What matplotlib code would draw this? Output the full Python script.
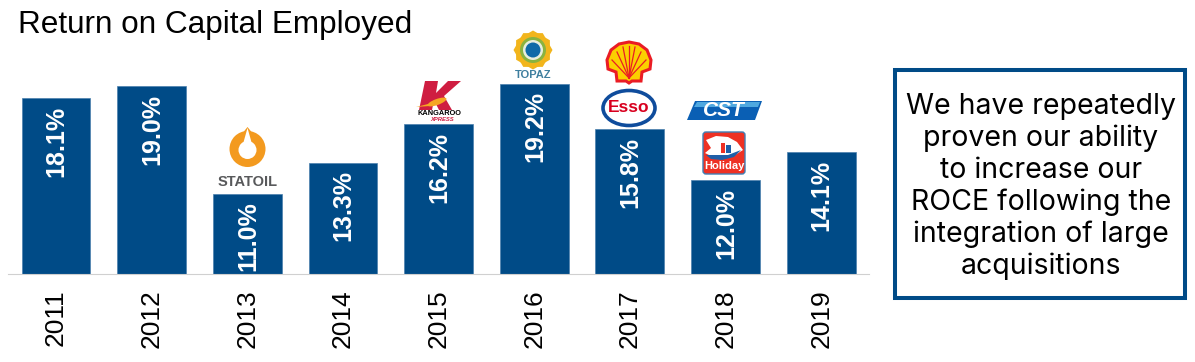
import matplotlib
matplotlib.use('Agg')
import matplotlib.pyplot as plt
from matplotlib.patches import Circle, Ellipse, Polygon, Rectangle, FancyBboxPatch, RegularPolygon

# Datos
anios = ['2011', '2012', '2013', '2014', '2015', '2016', '2017', '2018', '2019']
roce = [18.1, 19.0, 11.0, 13.3, 16.2, 19.2, 15.8, 12.0, 14.1]
etiquetas = ['18.1%', '19.0%', '11.0%', '13.3%', '16.2%', '19.2%', '15.8%', '12.0%', '14.1%']
titulo = 'Return on Capital Employed'
mensaje = 'We have repeatedly\nproven our ability\nto increase our\nROCE following the\nintegration of large\nacquisitions'

AZUL = '#004b87'
plt.rcParams['font.family'] = ['Liberation Sans', 'DejaVu Sans']

W, H = 1195, 362
fig = plt.figure(figsize=(W / 100, H / 100), dpi=100)

# Ejes de las barras: base en 5 %, 13.4 px por punto
ax = fig.add_axes([8.2 / W, (H - 274) / H, (869 - 8.2) / W, 244 / H])
ax.bar(range(len(anios)), roce, width=0.72, color=AZUL, edgecolor='#4a80ad', linewidth=0.5)
ax.set_xlim(-0.5, len(anios) - 0.5)
ax.set_ylim(5, 5 + 244 / 13.4)
ax.set_xticks(range(len(anios)))
ax.set_xticklabels(anios, rotation=90, fontsize=19, color='black')
ax.tick_params(axis='x', length=0, pad=11)
ax.set_yticks([])
for lado in ['top', 'left', 'right']:
    ax.spines[lado].set_visible(False)
ax.spines['bottom'].set_color('#d0d0d0')
ax.spines['bottom'].set_linewidth(0.8)
ax.patch.set_alpha(0)

for i, (v, t) in enumerate(zip(roce, etiquetas)):
    ax.annotate(t, xy=(i, v), xytext=(0.5, -5.5), textcoords='offset points', rotation=90,
                ha='center', va='top', color='white', fontsize=18, fontweight='bold')

# Capa en pixeles para titulo, logos y recuadro
capa = fig.add_axes([0, 0, 1, 1])
capa.set_xlim(0, W)
capa.set_ylim(H, 0)
capa.axis('off')
capa.patch.set_alpha(0)

capa.text(18, 25, titulo, fontsize=22.7, color='black', ha='left', va='center')

# Recuadro
capa.add_patch(Rectangle((895, 70), 290, 228, fill=False, edgecolor=AZUL, linewidth=2.9))
capa.text(1041, 186.5, mensaje, ha='center', va='center', fontsize=20.5, color='black',
          family='Inter', linespacing=1.21)

# Logo Statoil
capa.add_patch(Polygon([(247.5, 127), (237, 140), (258, 140)], color='#f39a1f', lw=0))
capa.add_patch(Circle((247.5, 149), 18, color='#f39a1f', lw=0))
capa.add_patch(Circle((247.5, 150), 9, color='white', lw=0))
capa.add_patch(Polygon([(247.5, 128), (243, 144), (252, 144)], color='white', lw=0))
capa.text(247.5, 182, 'STATOIL', ha='center', va='center', fontsize=10.5, fontweight='bold', color='#58595b')

# Logo Kangaroo
capa.add_patch(Polygon([(425, 81), (438, 81), (436, 93), (448, 81), (461, 81), (444, 96),
                        (452, 110), (439, 110), (434, 100), (432, 110), (419, 110)],
                       color='#cf1d41', lw=0))
capa.add_patch(Ellipse((437, 102), 20, 6, angle=-20, color='#f5a623', lw=0))
capa.add_patch(Polygon([(416, 107), (428, 104), (430, 106)], color='#f5a623', lw=0))
capa.text(439, 113.5, 'KANGAROO', ha='center', va='center', fontsize=5.3, fontweight='bold', color='black')
capa.text(442, 119.5, 'XPRESS', ha='center', va='center', fontsize=4.2, fontweight='bold', style='italic', color='#cf1d41')

# Logo Topaz
capa.add_patch(RegularPolygon((533, 50), 6, radius=19.5, color='#f2b51c', lw=0))
capa.add_patch(RegularPolygon((533, 50), 6, radius=19.5, orientation=0.5236, color='#f2b51c', lw=0))
capa.add_patch(Circle((533, 50), 13, color='#8ab340', lw=0))
capa.add_patch(Circle((533, 50), 10, color='#e8eedd', lw=0))
capa.add_patch(Circle((533, 50), 7.5, color='#0f6aa8', lw=0))
capa.text(533.5, 75, 'TOPAZ', ha='center', va='center', fontsize=8, fontweight='bold', color='#3f7f9f')

# Logo Shell
concha = [(617, 81), (616, 72), (608, 69), (607, 60), (611, 50), (619, 44), (629, 42), (639, 44),
          (647, 50), (651, 60), (650, 69), (642, 72), (641, 81), (632, 81), (629, 83), (626, 81)]
capa.add_patch(Polygon(concha, facecolor='#fbd000', edgecolor='#ea1c24', linewidth=2.2))
for xf, yf in [(612, 60), (617, 52), (623, 47), (629, 46), (635, 47), (641, 52), (646, 60)]:
    capa.plot([629, xf], [78, yf], color='#ea1c24', linewidth=0.9)

# Logo Esso
capa.add_patch(Ellipse((629, 108), 52, 35, facecolor='white', edgecolor='#0f4c9c', linewidth=2.6))
capa.text(629, 108, 'Esso', ha='center', va='center', fontsize=12.5, fontweight='bold', color='#d8001f')

# Logo CST
capa.add_patch(Polygon([(695, 101), (762, 101), (755, 120), (687, 120)], color='#0a5fb4', lw=0))
capa.add_patch(Polygon([(697, 102), (760, 102), (758, 107), (694, 107)], color='#4fa8e0', lw=0))
capa.text(724, 110.5, 'CST', ha='center', va='center', fontsize=15, fontweight='bold', style='italic', color='white')

# Logo Holiday
capa.add_patch(FancyBboxPatch((703, 132), 42, 42, boxstyle='round,pad=0,rounding_size=3',
                              facecolor='#ee3124', edgecolor='#3f7fb5', linewidth=1))
ojo = [(706, 140), (716, 136), (728, 137), (737, 142), (743, 150), (735, 155), (724, 158),
       (713, 157), (705, 153), (711, 148)]
capa.add_patch(Polygon(ojo, facecolor='white', edgecolor='none'))
capa.add_patch(Polygon([(706, 155), (716, 155), (728, 155), (741, 150), (734, 157), (722, 160), (711, 159)],
                       facecolor='#1f5fa8', edgecolor='none'))
capa.add_patch(Rectangle((721, 143), 4, 10, color='#ee3124', lw=0))
capa.add_patch(Rectangle((726, 145), 5, 8, color='#1f5fa8', lw=0))
capa.text(724, 166, 'Holiday', ha='center', va='center', fontsize=8, fontweight='bold', color='white')

fig.savefig('out.png', dpi=100)
